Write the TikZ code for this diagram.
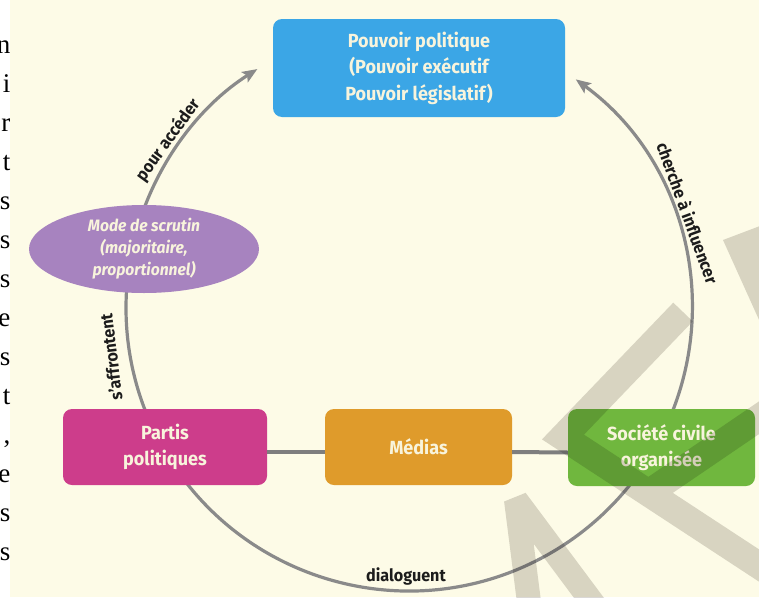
\documentclass[tikz,border=0pt]{standalone}
\usepackage{fontspec}
\setmainfont{Fira Sans}[FakeStretch=0.95]
\newfontfamily\pageserif{Liberation Serif}
\usetikzlibrary{arrows.meta,calc,shapes.geometric}
\definecolor{cream}{HTML}{FDFBE7}
\definecolor{pblue}{HTML}{3BA6E6}
\definecolor{ppurple}{HTML}{A783BF}
\definecolor{ppink}{HTML}{CD3D8B}
\definecolor{porange}{HTML}{DF9B2B}
\definecolor{pgreen}{HTML}{70B73E}
\definecolor{boxtext}{HTML}{F8F4DC}
\definecolor{arcgray}{HTML}{8A8A8A}
\definecolor{linkgray}{HTML}{7E7E7E}
\definecolor{wmgray}{RGB}{218,216,214}
\definecolor{labtext}{HTML}{1C1C1C}
\begin{document}
\begin{tikzpicture}[x=1pt,y=-1pt,
  box/.style={rounded corners=9pt, text=boxtext, font=\fontsize{19}{26.5}\selectfont\bfseries, align=center, inner sep=0pt},
  arcline/.style={draw=arcgray, line width=3.2pt},
  tiparrow/.style={-{Stealth[length=15pt,width=12pt,inset=3pt]}},
  link/.style={draw=linkgray, line width=4pt},
  lab/.style={text=labtext, font=\fontsize{17}{20}\selectfont\bfseries, inner sep=0pt},
  pageletter/.style={anchor=base east, inner sep=0pt, font=\pageserif\fontsize{27}{27}\selectfont},
]
% background
\fill[white] (0,0) rectangle (759,597);
\fill[cream] (10,0) rectangle (759,597);
\useasboundingbox (0,0) rectangle (759,597);
% letters of the neighbouring page
\foreach \l [count=\i from 0] in {n,i,r,t,s,s,s,e,s,t,{,},e,s,s}
  \node[pageletter] (pl\i) at (10.5,53+39*\i) {\l};
% circle connectors
\coordinate (c) at (409,308);
\coordinate (tipL) at ($(c)+(237.6:283)$);
\coordinate (tipR) at ($(c)+(-53.9:283)$);
\draw[arcline, tiparrow] ($(c)+(195:283)$) arc[start angle=195, end angle=237.6, radius=283];
\draw[arcline, tiparrow] ($(c)+(30:283)$) arc[start angle=30, end angle=-53.9, radius=283];
\draw[arcline] ($(c)+(200:283)$) arc[start angle=200, end angle=150, radius=283];
\draw[arcline] ($(c)+(150:283)$) arc[start angle=150, end angle=30, radius=283];
% nodes
\node[box, fill=pblue, minimum width=292pt, minimum height=98pt] (pouvoir) at (419,68)
  {Pouvoir politique\\(Pouvoir exécutif\\Pouvoir législatif)};
\node[ellipse, fill=ppurple, minimum width=230pt, minimum height=88pt, inner sep=0pt,
  text=boxtext, align=center, font=\fontsize{16.5}{22}\selectfont\bfseries\itshape] (mode) at (144,249)
  {Mode de scrutin\\(majoritaire,\\proportionnel)};
\node[box, fill=ppink, minimum width=204pt, minimum height=76pt] (partis) at (165,447) {Partis\\politiques};
\node[box, fill=porange, minimum width=187pt, minimum height=76pt] (medias) at (418.5,447) {Médias};
\node[box, fill=pgreen, minimum width=187pt, minimum height=77pt] (societe) at (661.5,447.5) {Société civile\\organisée};
% straight links
\draw[link] ([yshift=-5pt]partis.east) -- ([yshift=-5pt]medias.west);
\draw[link] ([yshift=-5pt]medias.east) -- ([yshift=-5pt]societe.west);
% labels
\node[lab, rotate=54] (lpour) at (168,140) {pour accéder};
\node[lab, rotate=-70] (lcherche) at (688,213) {cherche à influencer};
\node[lab, rotate=97] (laff) at (111,357) {s'affrontent};
\node[lab] (ldia) at (406,576) {dialoguent};
% watermark
\begin{scope}[blend mode=multiply]
  \draw[wmgray, line width=27pt, line join=miter] (683,312) -- (563,437) -- (775,576) (653,490) -- (785,400);
  \fill[wmgray] (723,240) -- (760,226) -- (760,322) -- cycle;
  \draw[wmgray, line width=24pt, line join=bevel] (530,610) -- (516,500) -- (598,610);
\end{scope}
\end{tikzpicture}
\end{document}
